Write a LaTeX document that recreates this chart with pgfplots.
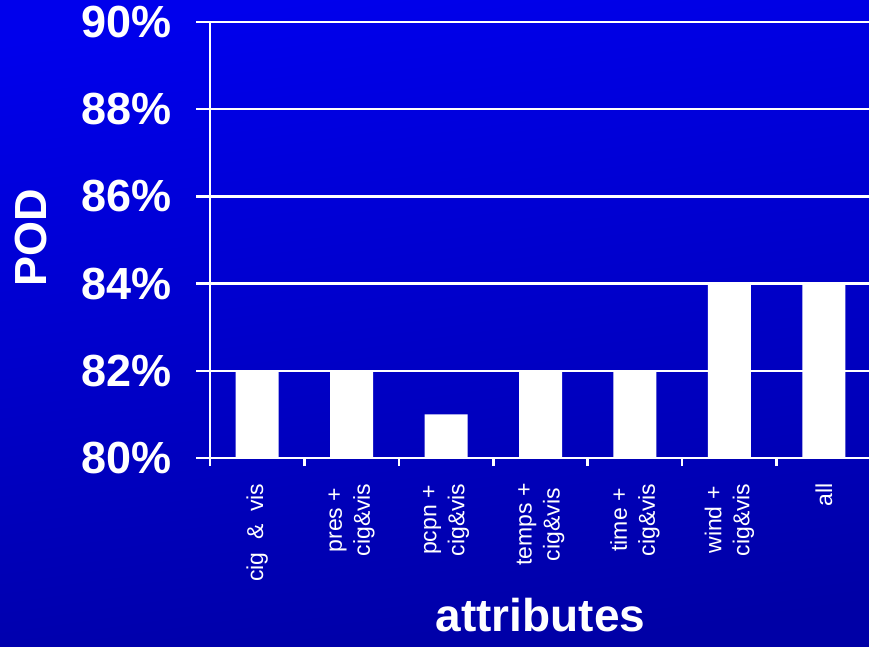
\documentclass[border=0pt]{standalone}
\usepackage{pgfplots}
\pgfplotsset{compat=1.18}
\usepackage{fontspec}
\setmainfont{Liberation Sans}
\definecolor{bgtop}{RGB}{0,0,236}
\definecolor{bgbot}{RGB}{0,0,166}
\newcommand{\bigbold}{\fontsize{45}{54}\selectfont\bfseries}
\newcommand{\labbold}{\fontsize{46}{54}\selectfont\bfseries}
\newcommand{\catfont}{\fontsize{23}{28}\selectfont}
\begin{document}
\begin{tikzpicture}
\useasboundingbox (0,0) rectangle (869pt,646pt);
\shade[top color=bgtop, bottom color=bgbot, shading angle=8] (-2pt,-2pt) rectangle (871pt,648pt);
\begin{axis}[
  at={(210pt,188pt)}, anchor=south west,
  scale only axis, width=661pt, height=436pt,
  xmin=-0.5, xmax=6.5, ymin=80, ymax=90,
  axis x line*=bottom, axis y line*=left,
  axis line style={white, line width=2.5pt},
  ybar, bar width=43pt,
  tick align=outside,
  xtick={-0.5,0.5,...,5.5}, xticklabels={},
  xtick style={white, line width=2.5pt, /pgfplots/major tick length=8pt},
  extra x ticks={0,1,2,3,4,5,6},
  extra x tick labels={cig \ \& \ vis, pres +\\cig\&vis, pcpn +\\cig\&vis, temps +\\cig\&vis, time +\\cig\&vis, wind +\\cig\&vis, all},
  extra x tick style={/pgfplots/major tick length=0pt, xtick style={draw=none}},
  xticklabel style={rotate=90, anchor=east, align=center, font=\catfont, text=white, xshift=-22pt},
  ytick={80,82,...,90},
  yticklabels={80\%,82\%,84\%,86\%,88\%,90\%},
  ytick style={white, line width=2.5pt, /pgfplots/major tick length=14pt},
  yticklabel style={font=\bigbold, text=white, xshift=-31pt},
  ymajorgrids, grid style={white, line width=2.5pt},
  xlabel={attributes}, ylabel={POD},
  xlabel style={at={(axis description cs:0.5,-0.398)}, anchor=base, inner sep=0pt, text depth=0pt, font=\labbold, text=white},
  ylabel style={at={(axis description cs:-0.271,0.505)}, anchor=center, rotate=0, font=\bigbold, text=white},
]
\addplot[fill=white, draw=none] coordinates {(0,82) (1,82) (2,81) (3,82) (4,82) (5,84) (6,84)};
\end{axis}
\end{tikzpicture}
\end{document}
